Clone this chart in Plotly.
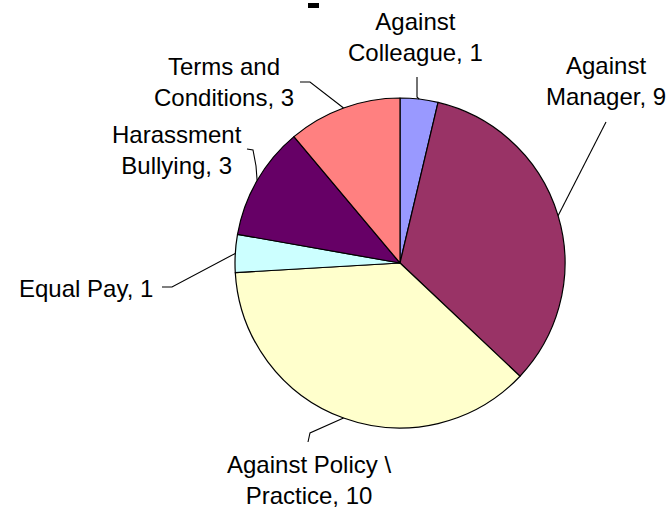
import math
import plotly.graph_objects as go

# ---- data ----
categories = ["Against Colleague", "Against Manager", "Against Policy \\ Practice",
              "Equal Pay", "Harassment Bullying", "Terms and Conditions"]
values = [1, 9, 10, 1, 3, 3]
label_text = ["Against<br>Colleague, 1", "Against<br>Manager, 9",
              "Against Policy \\<br>Practice, 10", "Equal Pay, 1",
              "Harassment<br>Bullying, 3", "Terms and<br>Conditions, 3"]
colors = ["#9999FF", "#993366", "#FFFFCC", "#CCFFFF", "#660066", "#FF8080"]

# ---- layout geometry (pixels) ----
W, H = 667, 510
CX, CY, R = 400, 263, 165

def px(x, y):
    return x / W, 1 - y / H

# label centres (pixels) and leader-line elbow points (pixels)
label_pos = [(415, 37), (606, 81), (309, 480), (86, 288), (177, 150), (224, 82)]
leader_start = [[(417, 77), (417, 97)],
                [(606, 122)],
                [(308, 442), (310, 433)],
                [(162, 287), (172, 287)],
                [(247, 149), (253, 150), (256, 166)],
                [(300, 82), (310, 82)]]

fig = go.Figure(go.Pie(
    labels=categories, values=values, sort=False, direction="clockwise",
    rotation=0, textinfo="none", hoverinfo="label+value",
    marker=dict(colors=colors, line=dict(color="black", width=1.2)),
    domain=dict(x=[(CX - R) / W, (CX + R) / W], y=[1 - (CY + R) / H, 1 - (CY - R) / H]),
    showlegend=False,
))

total = sum(values)
cum = 0
shapes = []
annotations = []
for i, v in enumerate(values):
    mid = (cum + v / 2) / total * 2 * math.pi
    cum += v
    ex = CX + R * math.sin(mid)
    ey = CY - R * math.cos(mid)
    pts = leader_start[i] + [(ex, ey)]
    path = "M " + " L ".join(f"{px(x, y)[0]:.5f},{px(x, y)[1]:.5f}" for x, y in pts)
    shapes.append(dict(type="path", xref="paper", yref="paper", path=path,
                       line=dict(color="black", width=1.1)))
    lx, ly = px(*label_pos[i])
    annotations.append(dict(x=lx, y=ly, xref="paper", yref="paper", text=label_text[i],
                            showarrow=False, xanchor="center", yanchor="middle",
                            align="center",
                            font=dict(family="Liberation Sans, Arial", size=24, color="black")))

# small fragment at top (cut-off title mark)
x0, y0 = px(308, 3)
x1, y1 = px(319, 8)
shapes.append(dict(type="rect", xref="paper", yref="paper", x0=x0, y0=y1, x1=x1, y1=y0,
                   fillcolor="black", line=dict(width=0)))

fig.update_layout(width=W, height=H, margin=dict(l=0, r=0, t=0, b=0),
                  paper_bgcolor="white", plot_bgcolor="white",
                  shapes=shapes, annotations=annotations)

fig.write_html("out.html")
